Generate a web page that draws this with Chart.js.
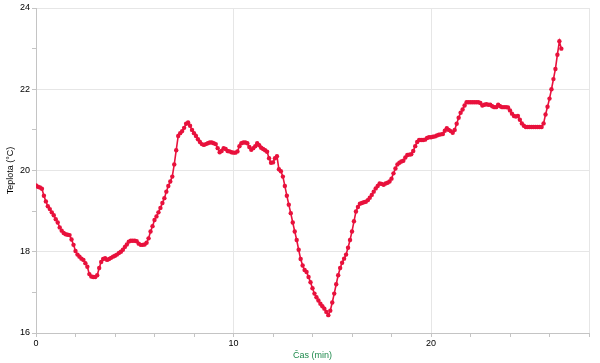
<!DOCTYPE html>
<html>
<head>
<meta charset="utf-8">
<script src="https://cdn.jsdelivr.net/npm/chart.js@4/dist/chart.umd.min.js"></script>
<style>
  body { margin: 0; background: #fff; }
  #wrap { width: 600px; height: 363px; }
</style>
</head>
<body>
<div id="wrap"><canvas id="myChart"></canvas></div>
<script>
// temperature readings, one every 0.1 min
var sampleMinutes = 0.1;
var temps = [
  19.63, 19.60, 19.58, 19.55, 19.38, 19.24, 19.12, 19.05, 18.97, 18.90,
  18.80, 18.72, 18.60, 18.52, 18.46, 18.43, 18.42, 18.41, 18.30, 18.17,
  18.02, 17.93, 17.88, 17.83, 17.80, 17.72, 17.63, 17.45, 17.39, 17.38,
  17.38, 17.42, 17.60, 17.75, 17.82, 17.84, 17.80, 17.82, 17.85, 17.88,
  17.90, 17.93, 17.97, 18.00, 18.05, 18.12, 18.18, 18.25, 18.27, 18.27,
  18.27, 18.26, 18.20, 18.17, 18.17, 18.18, 18.22, 18.33, 18.50, 18.63,
  18.78, 18.87, 18.97, 19.08, 19.20, 19.32, 19.48, 19.62, 19.73, 19.85,
  20.15, 20.50, 20.85, 20.92, 20.97, 21.05, 21.15, 21.18, 21.10, 21.00,
  20.92, 20.85, 20.77, 20.70, 20.65, 20.63, 20.65, 20.67, 20.69, 20.69,
  20.67, 20.65, 20.55, 20.45, 20.48, 20.55, 20.53, 20.48, 20.47, 20.45,
  20.44, 20.44, 20.47, 20.60, 20.67, 20.69, 20.69, 20.67, 20.58, 20.51,
  20.55, 20.60, 20.67, 20.62, 20.56, 20.53, 20.50, 20.46, 20.30, 20.19,
  20.20, 20.30, 20.35, 20.03, 19.98, 19.85, 19.62, 19.38, 19.16, 18.95,
  18.72, 18.50, 18.29, 18.05, 17.82, 17.66, 17.55, 17.50, 17.38, 17.25,
  17.10, 16.97, 16.88, 16.80, 16.72, 16.66, 16.60, 16.52, 16.44, 16.55,
  16.75, 16.97, 17.20, 17.42, 17.60, 17.73, 17.83, 17.93, 18.10, 18.29,
  18.50, 18.75, 18.99, 19.10, 19.18, 19.20, 19.22, 19.23, 19.27, 19.33,
  19.40, 19.48, 19.56, 19.62, 19.68, 19.67, 19.65, 19.68, 19.70, 19.73,
  19.80, 19.93, 20.05, 20.15, 20.19, 20.22, 20.24, 20.32, 20.38, 20.39,
  20.40, 20.48, 20.60, 20.70, 20.75, 20.75, 20.75, 20.76, 20.80, 20.82,
  20.82, 20.83, 20.84, 20.86, 20.88, 20.89, 20.90, 20.98, 21.04, 21.00,
  20.97, 20.93, 21.00, 21.15, 21.30, 21.42, 21.50, 21.60, 21.68, 21.68,
  21.68, 21.68, 21.68, 21.68, 21.68, 21.66, 21.60, 21.62, 21.63, 21.62,
  21.62, 21.58, 21.56, 21.56, 21.62, 21.58, 21.56, 21.56, 21.56, 21.55,
  21.48, 21.40, 21.34, 21.33, 21.34, 21.25, 21.16, 21.10, 21.07, 21.07,
  21.07, 21.07, 21.07, 21.07, 21.07, 21.07, 21.07, 21.16, 21.38, 21.57,
  21.77, 22.00, 22.25, 22.50, 22.85, 23.18, 23.00
];
var times = temps.map(function (t, i) { return +(i * sampleMinutes).toFixed(1); });

var xLabeled = [0, 10, 20];
var yLabeled = [16, 18, 20, 22, 24];
var lineColor = "#e8113c";
var gridColor = "#e6e6e6";
var axisColor = "#c4c4c4";

var points = times.map(function (t, i) { return { x: t, y: temps[i] }; });

new Chart("myChart", {
  type: "line",
  data: {
    datasets: [{
      data: points,
      borderColor: lineColor,
      backgroundColor: lineColor,
      borderWidth: 1.6,
      pointRadius: 2.2,
      pointBorderWidth: 0,
      pointBackgroundColor: lineColor,
      tension: 0
    }]
  },
  options: {
    responsive: true,
    maintainAspectRatio: false,
    animation: false,
    layout: { padding: { top: 8, right: 11, bottom: 0, left: 0 } },
    plugins: {
      legend: { display: false },
      tooltip: { enabled: false }
    },
    scales: {
      x: {
        type: "linear",
        min: 0,
        max: 28,
        afterFit: function (scale) { scale.height = 30; },
        ticks: {
          stepSize: 2,
          autoSkip: false,
          maxRotation: 0,
          padding: 1,
          color: "#000",
          font: { family: "Liberation Sans, Arial", size: 9 },
          callback: function (v) { return xLabeled.indexOf(v) >= 0 ? v : ""; }
        },
        grid: {
          tickLength: 4,
          color: function (ctx) {
            var v = ctx.tick && ctx.tick.value;
            return (xLabeled.indexOf(v) >= 0 || v === 28) ? gridColor : "rgba(0,0,0,0)";
          },
          tickColor: axisColor
        },
        border: { color: axisColor },
        title: {
          display: true,
          text: "Čas (min)",
          color: "#1e8a4c",
          font: { family: "Liberation Sans, Arial", size: 9 },
          padding: { top: 1, bottom: 2 }
        }
      },
      y: {
        min: 16,
        max: 24,
        afterFit: function (scale) { scale.width = 36; },
        ticks: {
          stepSize: 1,
          autoSkip: false,
          padding: 2,
          color: "#000",
          font: { family: "Liberation Sans, Arial", size: 9 },
          callback: function (v) { return yLabeled.indexOf(v) >= 0 ? v : ""; }
        },
        grid: {
          tickLength: 4,
          color: function (ctx) {
            var v = ctx.tick && ctx.tick.value;
            return yLabeled.indexOf(v) >= 0 ? gridColor : "rgba(0,0,0,0)";
          },
          tickColor: axisColor
        },
        border: { color: axisColor },
        title: {
          display: true,
          text: "Teplota (°C)",
          color: "#000",
          font: { family: "Liberation Sans, Arial", size: 9 },
          padding: { top: 5, bottom: 2 }
        }
      }
    }
  }
});
</script>
</body>
</html>
